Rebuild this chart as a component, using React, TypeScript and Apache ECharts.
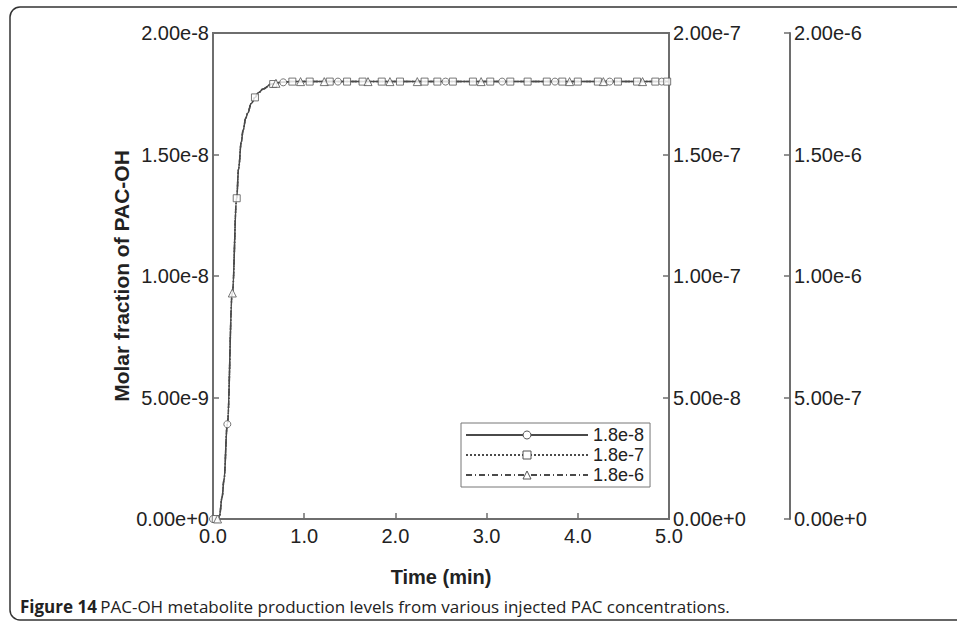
import React, { useEffect, useRef } from "react";
import * as echarts from "echarts";

// Smooth production curve (time in min)
const curveTime = [0, 0.05, 0.07, 0.1, 0.12, 0.157, 0.212, 0.26, 0.28, 0.31, 0.33, 0.36, 0.38, 0.42, 0.46, 0.5, 0.55, 0.64, 0.75, 0.85, 5.0];
const level_1p8e8 = [0, 0, 0.01e-8, 0.09e-8, 0.16e-8, 0.39e-8, 0.93e-8, 1.32e-8, 1.44e-8, 1.55e-8, 1.6e-8, 1.65e-8, 1.67e-8, 1.71e-8, 1.735e-8, 1.755e-8, 1.77e-8, 1.79e-8, 1.797e-8, 1.8e-8, 1.8e-8];
const level_1p8e7 = [0, 0, 0.01e-7, 0.09e-7, 0.16e-7, 0.39e-7, 0.93e-7, 1.32e-7, 1.44e-7, 1.55e-7, 1.6e-7, 1.65e-7, 1.67e-7, 1.71e-7, 1.735e-7, 1.755e-7, 1.77e-7, 1.79e-7, 1.797e-7, 1.8e-7, 1.8e-7];
const level_1p8e6 = [0, 0, 0.01e-6, 0.09e-6, 0.16e-6, 0.39e-6, 0.93e-6, 1.32e-6, 1.44e-6, 1.55e-6, 1.6e-6, 1.65e-6, 1.67e-6, 1.71e-6, 1.735e-6, 1.755e-6, 1.77e-6, 1.79e-6, 1.797e-6, 1.8e-6, 1.8e-6];

// Solver output points shown as markers
const circleTime = [0, 0.157, 0.77, 1.37, 2.55, 3.17, 3.75, 4.35, 4.92];
const circleValue = [0, 0.39e-8, 1.797e-8, 1.8e-8, 1.8e-8, 1.8e-8, 1.8e-8, 1.8e-8, 1.8e-8];
const squareTime = [0.03, 0.26, 0.46, 0.66, 0.87, 1.06, 1.28, 1.47, 1.64, 1.85, 2.05, 2.32, 2.46, 2.63, 2.85, 3.04, 3.26, 3.45, 3.66, 3.83, 4.0, 4.22, 4.44, 4.65, 4.85, 4.98];
const squareValue = [0, 1.32e-7, 1.735e-7, 1.79e-7, 1.8e-7, 1.8e-7, 1.8e-7, 1.8e-7, 1.8e-7, 1.8e-7, 1.8e-7, 1.8e-7, 1.8e-7, 1.8e-7, 1.8e-7, 1.8e-7, 1.8e-7, 1.8e-7, 1.8e-7, 1.8e-7, 1.8e-7, 1.8e-7, 1.8e-7, 1.8e-7, 1.8e-7, 1.8e-7];
const triangleTime = [0.05, 0.212, 0.69, 0.96, 1.22, 1.7, 1.94, 2.24, 2.94, 3.91, 4.28, 4.71];
const triangleValue = [0, 0.93e-6, 1.793e-6, 1.8e-6, 1.8e-6, 1.8e-6, 1.8e-6, 1.8e-6, 1.8e-6, 1.8e-6, 1.8e-6, 1.8e-6];

const seriesNames = ["1.8e-8", "1.8e-7", "1.8e-6"];
const xTicks = [0, 1, 2, 3, 4, 5];

const zip = (a: number[], b: number[]) => a.map((t, i) => [t, b[i]]);

const AXIS = "#6e6e6e";
const LINE = "#4a4a4a";
const TXT = "#222";
const FONT = "'Liberation Sans', Arial, sans-serif";

export default function App() {
  const ref = useRef<HTMLDivElement>(null);
  useEffect(() => {
    if (!ref.current) return;
    const chart = echarts.init(ref.current, undefined, { renderer: "svg" });
    const fmt = (v: number) => Number(v).toExponential(2);
    const yBase = (extra: any) => ({
      type: "value",
      min: 0,
      splitLine: { show: false },
      axisLine: { show: true, lineStyle: { color: AXIS, width: 2 } },
      axisTick: { show: true, inside: true, length: 6, lineStyle: { color: AXIS, width: 1.5 } },
      axisLabel: { formatter: fmt, fontSize: 20, color: TXT, margin: 4, fontFamily: FONT },
      ...extra,
    });
    const itemStyle = { color: "#fff", borderColor: "#555", borderWidth: 1 };
    const lineSeries = (name: string, yi: number, data: number[], symbol: string, type: any) => ({
      name,
      type: "line",
      yAxisIndex: yi,
      data: zip(curveTime, data),
      symbol,
      symbolSize: 8,
      showSymbol: false,
      smooth: 0.4,
      smoothMonotone: "x",
      lineStyle: { color: LINE, width: 1.5, type },
      itemStyle,
      z: 2,
    });
    const markSeries = (name: string, yi: number, t: number[], v: number[], symbol: string, size: number) => ({
      name,
      type: "scatter",
      yAxisIndex: yi,
      data: zip(t, v),
      symbol,
      symbolSize: size,
      itemStyle,
      z: 3,
    });
    chart.setOption({
      animation: false,
      grid: { left: 213, right: 288, top: 33, bottom: 111, show: true, borderColor: AXIS, borderWidth: 2 },
      legend: {
        data: seriesNames,
        orient: "vertical",
        left: 461,
        top: 423,
        padding: [3, 6, 3, 4],
        itemWidth: 122,
        itemHeight: 10,
        itemGap: 2,
        borderColor: "#777",
        borderWidth: 1,
        textStyle: { fontSize: 18, lineHeight: 18, color: TXT, fontFamily: FONT },
        itemStyle: { color: "#fff", borderColor: "#555", borderWidth: 1 },
      },
      xAxis: {
        type: "value",
        min: 0,
        max: 5,
        interval: 1,
        splitLine: { show: false },
        axisLine: { lineStyle: { color: AXIS, width: 2 } },
        axisTick: { inside: true, length: 6, lineStyle: { color: AXIS, width: 1.5 } },
        axisLabel: {
          formatter: (v: number) => (xTicks.includes(v) ? v.toFixed(1) : ""),
          fontSize: 20,
          color: TXT,
          margin: 7,
          fontFamily: FONT,
        },
        name: "Time (min)",
        nameLocation: "middle",
        nameGap: 48,
        nameTextStyle: { fontSize: 20, fontWeight: "bold", color: TXT, fontFamily: FONT },
      },
      yAxis: [
        yBase({
          position: "left",
          max: 2e-8,
          interval: 5e-9,
          name: "Molar fraction of PAC-OH",
          nameLocation: "middle",
          nameRotate: 90,
          nameGap: 80,
          nameTextStyle: { fontSize: 21, fontWeight: "bold", color: TXT, fontFamily: FONT },
        }),
        yBase({ position: "right", max: 2e-7, interval: 5e-8 }),
        yBase({ position: "right", offset: 121, max: 2e-6, interval: 5e-7 }),
      ],
      series: [
        lineSeries(seriesNames[0], 0, level_1p8e8, "circle", "solid"),
        lineSeries(seriesNames[1], 1, level_1p8e7, "rect", "dotted"),
        lineSeries(seriesNames[2], 2, level_1p8e6, "triangle", [6, 3, 1, 3]),
        markSeries("m8", 0, circleTime, circleValue, "circle", 7),
        markSeries("m7", 1, squareTime, squareValue, "rect", 7),
        markSeries("m6", 2, triangleTime, triangleValue, "triangle", 8),
      ],
      graphic: [
        {
          type: "rect",
          shape: { x: 10, y: 7, width: 960, height: 613, r: 10 },
          style: { fill: "none", stroke: "#333", lineWidth: 1.5 },
          silent: true,
        },
        {
          type: "text",
          x: 20,
          y: 606,
          style: {
            rich: {
              b: { fontWeight: "bold", fontSize: 17, fill: "#222", fontFamily: "'Open Sans', sans-serif" },
              n: { fontSize: 17, fill: "#222", fontFamily: "'Open Sans', sans-serif" },
            },
            text: "{b|Figure 14} {n|PAC-OH metabolite production levels from various injected PAC concentrations.}",
            verticalAlign: "middle",
          },
        },
      ],
    });
    return () => chart.dispose();
  }, []);
  return <div ref={ref} style={{ width: 957, height: 630, position: "absolute", left: 0, top: 0 }} />;
}
